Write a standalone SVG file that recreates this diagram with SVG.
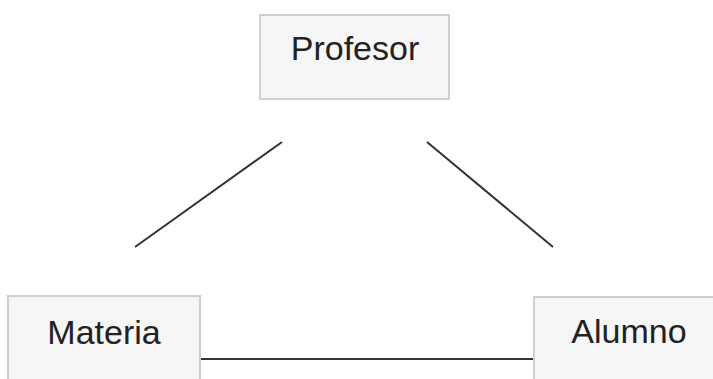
<svg xmlns="http://www.w3.org/2000/svg" width="713" height="379" viewBox="0 0 713 379">
<style>
.box{fill:#f6f6f7;stroke:#cfcfcf;stroke-width:2}
.lbl{font-family:"Liberation Sans",Arial,sans-serif;font-size:34px;fill:#222;text-anchor:middle}
.edge{stroke:#333;stroke-width:2;fill:none}
</style>
<rect width="713" height="379" fill="#fff"/>
<g id="connectors">
<line class="edge" x1="135" y1="247" x2="282" y2="142"/>
<line class="edge" x1="427" y1="142" x2="553" y2="247"/>
<line class="edge" x1="200" y1="359" x2="534" y2="359"/>
</g>
<g id="profesor">
<rect class="box" x="260" y="15" width="189" height="84"/>
<text class="lbl" x="355" y="60">Profesor</text>
</g>
<g id="materia">
<rect class="box" x="8" y="296" width="192" height="90"/>
<text class="lbl" x="104" y="344">Materia</text>
</g>
<g id="alumno">
<rect class="box" x="534" y="297" width="190" height="90"/>
<text class="lbl" x="629" y="343">Alumno</text>
</g>
</svg>
